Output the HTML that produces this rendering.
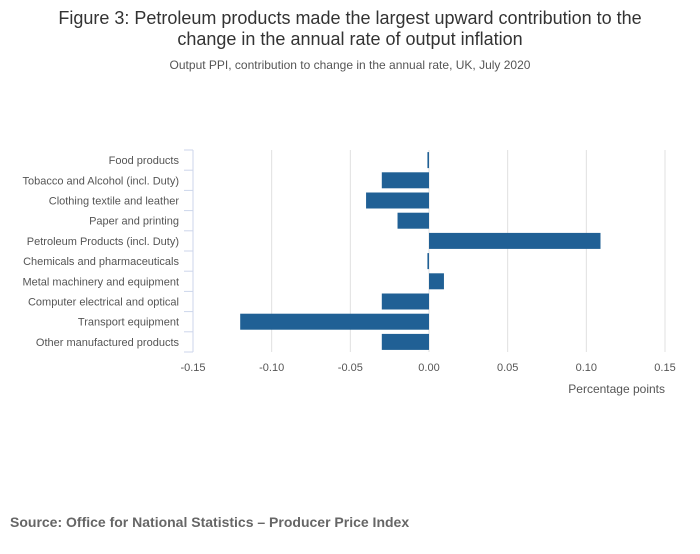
<!DOCTYPE html>
<html><head><meta charset="utf-8"><style>
body{margin:0;background:#fff;font-family:"Liberation Sans",sans-serif;}
</style></head><body>
<svg width="700" height="549" xmlns="http://www.w3.org/2000/svg" id="c">
<text x="350" y="24" text-anchor="middle" font-size="18" fill="#333">Figure 3: Petroleum products made the largest upward contribution to the</text>
<text x="350" y="45" text-anchor="middle" font-size="18" fill="#333">change in the annual rate of output inflation</text>
<text x="350" y="69" text-anchor="middle" font-size="12" fill="#555">Output PPI, contribution to change in the annual rate, UK, July 2020</text>
<text x="665" y="393" text-anchor="end" font-size="12" fill="#555">Percentage points</text>
<text x="10" y="527" font-size="14" font-weight="bold" fill="#666">Source: Office for National Statistics – Producer Price Index</text>
<g id="plot"></g>
</svg>
<script>
const categories=["Food products","Tobacco and Alcohol (incl. Duty)","Clothing textile and leather","Paper and printing","Petroleum Products (incl. Duty)","Chemicals and pharmaceuticals","Metal machinery and equipment","Computer electrical and optical","Transport equipment","Other manufactured products"];
const values=[-0.001,-0.03,-0.04,-0.02,0.109,-0.001,0.0095,-0.03,-0.12,-0.03];
const ticks=[-0.15,-0.10,-0.05,0,0.05,0.10,0.15];
const tickLabels=["-0.15","-0.10","-0.05","0.00","0.05","0.10","0.15"];
const NS="http://www.w3.org/2000/svg";
const g=document.getElementById('plot');
const x0=193,x1=665,topY=150,bandH=20.2;
const xs=v=>x0+(v+0.15)/0.30*(x1-x0);
function mk(t,a){const e=document.createElementNS(NS,t);for(const k in a)e.setAttribute(k,a[k]);g.appendChild(e);return e;}
const bottomY=topY+bandH*categories.length;
ticks.forEach((t,i)=>{
  if(i>0){const l=mk('line',{x1:xs(t),x2:xs(t),y1:topY,y2:bottomY,stroke:'#e0e0e0','stroke-width':1});
  
  }
  const tx=mk('text',{x:xs(t),y:371,'text-anchor':'middle','font-size':11,fill:'#555'});
  tx.textContent=tickLabels[i];
  
  
});
const ax=mk('line',{x1:x0,x2:x0,y1:topY,y2:bottomY,stroke:'#ccd6eb','stroke-width':1});


for(let i=0;i<=categories.length;i++){
  const tk=mk('line',{x1:x0-9,x2:x0,y1:topY+i*bandH,y2:topY+i*bandH,stroke:'#ccd6eb','stroke-width':1});
  
  
}
categories.forEach((c,i)=>{
  const cy=topY+i*bandH+bandH/2;
  const lab=mk('text',{x:179,y:cy+4,'text-anchor':'end','font-size':11,fill:'#555'});
  lab.textContent=c;
  
  
  const v=values[i];
  let a=xs(Math.min(0,v)),b=xs(Math.max(0,v));
  if(b-a<1.5){b=a+1.5;}
  const r=mk('rect',{x:a,y:cy-8,width:b-a,height:16,fill:'#206095'});
  
  
});
</script>
</body></html>
